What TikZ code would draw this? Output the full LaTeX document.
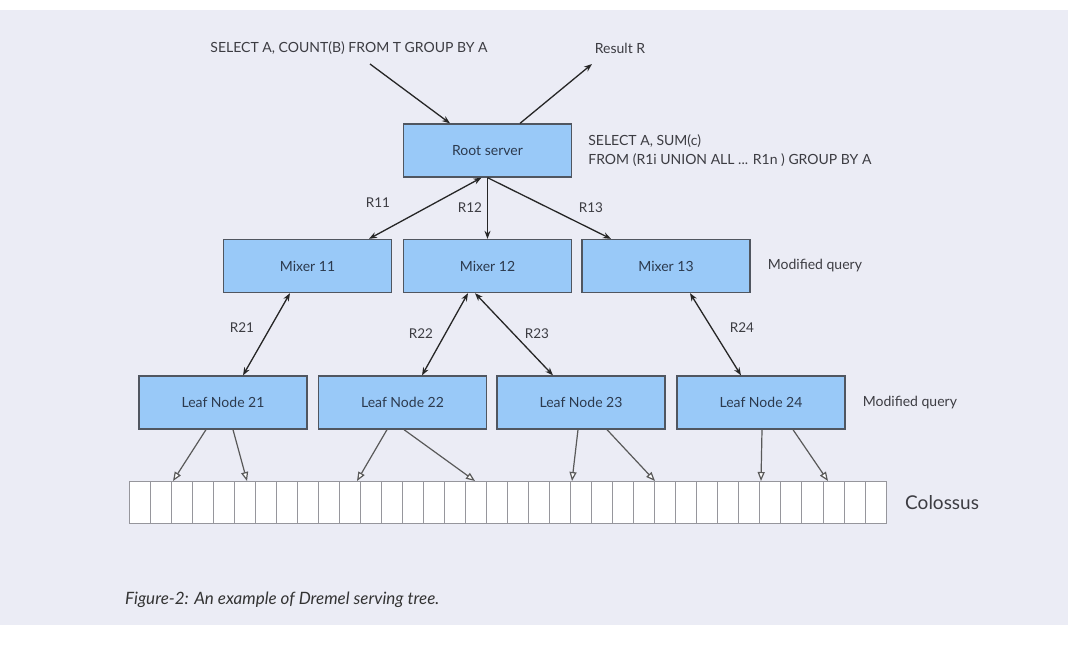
\documentclass[tikz,border=0pt]{standalone}
\usepackage{fontspec}
\setmainfont{Lato}
\usepackage{xcolor}
\usepackage{tikz}
\usetikzlibrary{arrows.meta,positioning}
\definecolor{boxblue}{RGB}{153,201,248}
\definecolor{boxedge}{RGB}{80,86,96}
\definecolor{pagebg}{RGB}{235,236,245}
\definecolor{notegray}{RGB}{60,60,66}
\definecolor{boxtext}{RGB}{44,58,78}
\definecolor{cellgray}{RGB}{150,150,156}

\tikzset{
    server/.style={draw=boxedge, line width=1.3pt, fill=boxblue, minimum width=168pt, minimum height=53pt, inner sep=0pt, text=boxtext, font=\fontsize{14}{16}\selectfont},
    note/.style={text=notegray, font=\fontsize{14}{19}\selectfont, inner sep=0pt},
    rlabel/.style={text=notegray, font=\fontsize{13.5}{15}\selectfont, inner sep=0pt},
    link/.style={line width=1.3pt, black!85, {Stealth[length=8pt,width=6pt]}-{Stealth[length=8pt,width=6pt]}},
    query/.style={line width=1.3pt, black!85, -{Stealth[length=8pt,width=6pt]}},
    fetch/.style={line width=1.2pt, black!65, -{Triangle[length=9pt,width=7pt,fill=white]}},
}

\begin{document}
\begin{tikzpicture}[x=1pt,y=-1pt]
        \useasboundingbox (0,0) rectangle (1068,662);
        \fill[white] (0,0) rectangle (1068,662);
        \fill[pagebg] (0,10) rectangle (1068,625);

        \node[server] (root) at (487.5,150.5) {Root server};
        \node[server] (mixer11) at (307.5,266) {Mixer 11};
        \node[server] (mixer12) at (487.5,266) {Mixer 12};
        \node[server] (mixer13) at (666,266) {Mixer 13};
        \node[server] (leaf21) at (223,402.5) {Leaf Node 21};
        \node[server] (leaf22) at (402.5,402.5) {Leaf Node 22};
        \node[server] (leaf23) at (581,402.5) {Leaf Node 23};
        \node[server] (leaf24) at (761,402.5) {Leaf Node 24};

        \node[draw=cellgray, line width=1pt, fill=white, minimum width=757pt, minimum height=42pt, inner sep=0pt, anchor=north west] (colossus) at (129,481) {};
        \foreach \i in {1,...,35}
            \draw[cellgray, line width=1pt] (129+\i*21.03,481) -- (129+\i*21.03,523);

        \node[note] (sqltop) at (349,48) {SELECT A, COUNT(B) FROM T GROUP BY A};
        \node[note] (result) at (620,48) {Result R};
        \node[note, align=left, right=16pt of root] (sqlroot) {SELECT A, SUM(c)\\FROM (R1i UNION ALL ... R1n ) GROUP BY A};
        \node[note, right=17pt of mixer13] (modmix) {Modified query};
        \node[note, right=17pt of leaf24] (modleaf) {Modified query};
        \node[note, font=\fontsize{19}{22}\selectfont, right=18pt of colossus] (colname) {Colossus};

        \coordinate (sqlin) at (370,64);
        \coordinate (sqlout) at (592,64);
        \draw[query] (sqlin) -- ([xshift=-37.5pt]root.north);
        \draw[query] ([xshift=32.5pt]root.north) -- (sqlout);

        \draw[link] ([xshift=-6pt]root.south) -- ([xshift=61.5pt]mixer11.north);
        \draw[query] (root.south) -- (mixer12.north);
        \draw[query] (root.south) -- ([xshift=-55pt]mixer13.north);
        \node[rlabel] (r11) at (378,203) {R11};
        \node[rlabel] (r12) at (470,208) {R12};
        \node[rlabel] (r13) at (591,208) {R13};

        \draw[link] ([xshift=-17.5pt]mixer11.south) -- ([xshift=20pt]leaf21.north);
        \draw[link] ([xshift=-19.5pt]mixer12.south) -- ([xshift=19.5pt]leaf22.north);
        \draw[link] ([xshift=-12.5pt]mixer12.south) -- ([xshift=-28pt]leaf23.north);
        \draw[link] ([xshift=24pt]mixer13.south) -- ([xshift=-20pt]leaf24.north);
        \node[rlabel] (r21) at (242,328) {R21};
        \node[rlabel] (r22) at (421,334) {R22};
        \node[rlabel] (r23) at (537,334) {R23};
        \node[rlabel] (r24) at (742,328) {R24};

        \coordinate (c1) at (173,481);
        \coordinate (c2) at (247,481);
        \coordinate (c3) at (357,481);
        \coordinate (c4) at (475,481);
        \coordinate (c5) at (572,481);
        \coordinate (c6) at (655,481);
        \coordinate (c7) at (761,481);
        \coordinate (c8) at (828,481);
        \draw[fetch] ([xshift=-17pt]leaf21.south) -- (c1);
        \draw[fetch] ([xshift=10pt]leaf21.south) -- (c2);
        \draw[fetch] ([xshift=-15.5pt]leaf22.south) -- (c3);
        \draw[fetch] ([xshift=1.5pt]leaf22.south) -- (c4);
        \draw[fetch] ([xshift=-3pt]leaf23.south) -- (c5);
        \draw[fetch] ([xshift=26pt]leaf23.south) -- (c6);
        \draw[fetch] ([xshift=1pt]leaf24.south) -- (c7);
        \draw[fetch] ([xshift=32pt]leaf24.south) -- (c8);

        \node[text=black!80, font=\fontsize{17}{20}\selectfont\itshape, inner sep=0pt, anchor=west] (caption) at (125,600) {Figure-2: An example of Dremel serving tree.};
    \end{tikzpicture}
\end{document}
